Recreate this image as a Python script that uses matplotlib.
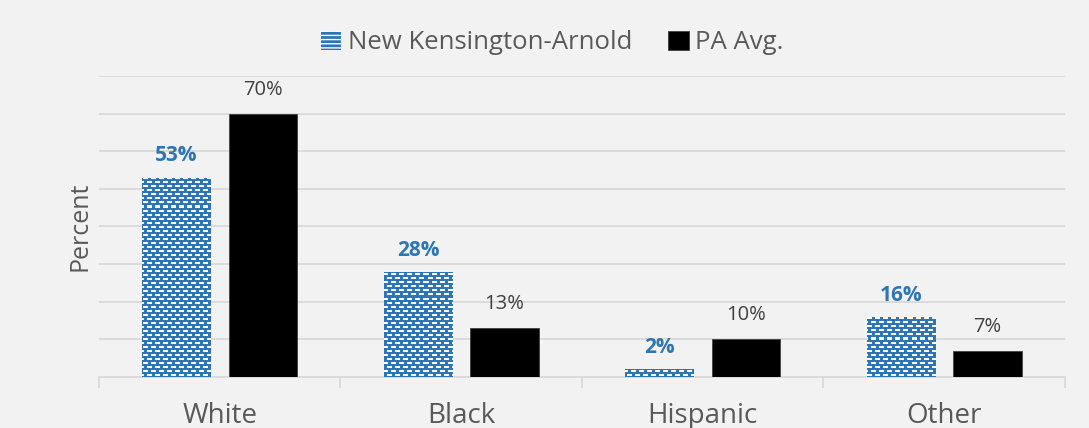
import numpy as np
import matplotlib.pyplot as plt

plt.rcParams['font.family'] = ['Open Sans', 'DejaVu Sans']
plt.rcParams['hatch.linewidth'] = 1.0

categories = ['White', 'Black', 'Hispanic', 'Other']
nk_arnold = [53, 28, 2, 16]
pa_avg = [70, 13, 10, 7]
series_names = ['New Kensington-Arnold', 'PA Avg.']

blue = '#2E75B6'
bg = '#F2F2F2'
grid_c = '#D9D9D9'
text_c = '#595959'

fig = plt.figure(figsize=(10.89, 4.28), dpi=100, facecolor=bg)
ax = fig.add_axes([0.0909, 0.1192, 0.887, 0.7032], facecolor=bg)

x = np.arange(len(categories)) + 0.5
w = 0.285
off = 0.179

b1 = ax.bar(x - off, nk_arnold, w, color=blue, edgecolor='white',
            linewidth=0, hatch='----', label=series_names[0], zorder=3)
b2 = ax.bar(x + off, pa_avg, w, color='black', edgecolor='#404040',
            linewidth=0.6, label=series_names[1], zorder=3)

# brick-like dash texture on the blue bars (8x8 px tile)
rgb_b = np.array([46, 117, 182]) / 255
tile = np.ones((8, 8, 3)) * rgb_b
tile[2:4, 0:5] = 1.0
tile[6:8, 4:8] = 1.0
tile[6:8, 0:1] = 1.0
ph = int(round(0.7032 * 428))
pw = int(round(0.887 * 1089))
tex = np.tile(tile, (ph // 8 + 1, pw // 8 + 1, 1))[:ph, :pw]
for r in b1:
    im = ax.imshow(tex, extent=(0, 4, 0, 80), aspect='auto',
                   interpolation='nearest', origin='upper', zorder=3.5)
    im.set_clip_path(r)

for r, v in zip(b1, nk_arnold):
    ax.annotate(f'{v}%', (r.get_x() + r.get_width() / 2, v),
                xytext=(0, 8), textcoords='offset points', ha='center',
                va='bottom', fontsize=15, fontweight='bold', color=blue)
for r, v in zip(b2, pa_avg):
    ax.annotate(f'{v}%', (r.get_x() + r.get_width() / 2, v),
                xytext=(0, 10), textcoords='offset points', ha='center',
                va='bottom', fontsize=14.5, color='#404040')

ax.set_xlim(0, 4)
ax.set_ylim(0, 80)
ax.set_yticks(np.arange(10, 90, 10))
ax.yaxis.grid(True, color=grid_c, linewidth=1.3, zorder=0)
ax.tick_params(axis='y', left=False, labelleft=False)

ax.set_xticks(x)
ax.set_xticklabels(categories, fontsize=20, color=text_c)
ax.set_xticks(np.arange(0, 5), minor=True)
ax.tick_params(axis='x', which='major', length=0, pad=18)
ax.tick_params(axis='x', which='minor', length=8, color=grid_c, width=1.3)

for s in ['top', 'right', 'left']:
    ax.spines[s].set_visible(False)
ax.spines['bottom'].set_color(grid_c)
ax.spines['bottom'].set_linewidth(1.3)

ax.set_ylabel('Percent', fontsize=18, color=text_c, labelpad=5)

leg = fig.legend(handles=[b1, b2], loc='center', bbox_to_anchor=(0.507, 0.90),
                 ncol=2, frameon=False, fontsize=18.5, labelcolor=text_c,
                 handlelength=0.8, handleheight=0.8, handletextpad=0.25,
                 columnspacing=1.4)

fig.savefig('out.png', dpi=100, facecolor=bg)
